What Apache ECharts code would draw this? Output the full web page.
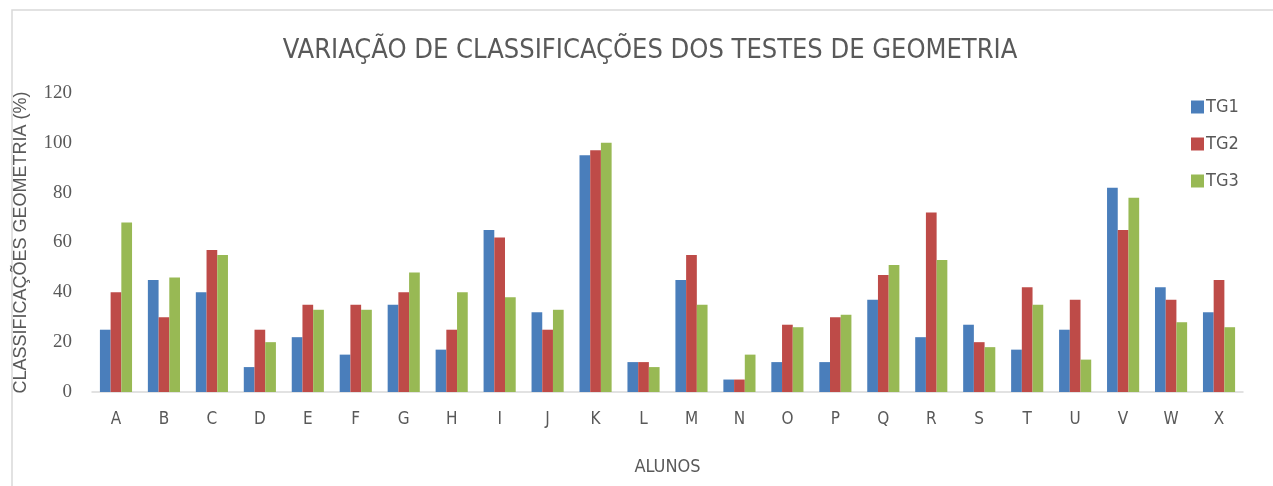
<!DOCTYPE html>
<html>
<head>
<meta charset="utf-8">
<script src="https://cdn.jsdelivr.net/npm/echarts@6/dist/echarts.min.js"></script>
<style>
  html, body { margin: 0; padding: 0; background: #fff; }
  #chart { width: 1273px; height: 486px; }
</style>
</head>
<body>
<div id="chart"></div>
<script>
var alunos = ['A','B','C','D','E','F','G','H','I','J','K','L','M','N','O','P','Q','R','S','T','U','V','W','X'];
var tg1 = [25, 45, 40, 10, 22, 15, 35, 17, 65, 32, 95, 12, 45, 5, 12, 12, 37, 22, 27, 17, 25, 82, 42, 32];
var tg2 = [40, 30, 57, 25, 35, 35, 40, 25, 62, 25, 97, 12, 55, 5, 27, 30, 47, 72, 20, 42, 37, 65, 37, 45];
var tg3 = [68, 46, 55, 20, 33, 33, 48, 40, 38, 33, 100, 10, 35, 15, 26, 31, 51, 53, 18, 35, 13, 78, 28, 26];
var yTicks = [0, 20, 40, 60, 80, 100, 120];

var dom = document.getElementById('chart');
var myChart = echarts.init(dom, null, { renderer: 'canvas' });

var textGrey = '#595959';

var option = {
  animation: false,
  backgroundColor: '#fff',
  color: ['#4A7EBB', '#BE4B48', '#98B954'],
  graphic: [{
    type: 'rect',
    shape: { x: 12, y: 10, width: 1270, height: 490 },
    style: { fill: 'none', stroke: '#d9d9d9', lineWidth: 1.5 },
    silent: true
  }],
  title: {
    text: 'VARIAÇÃO DE CLASSIFICAÇÕES DOS TESTES DE GEOMETRIA',
    left: 645,
    textAlign: 'center',
    top: 32,
    textStyle: {
      fontFamily: 'Liberation Sans Narrow, DejaVu Sans Condensed, sans-serif',
      fontWeight: 'normal',
      fontSize: 27,
      color: textGrey
    }
  },
  legend: {
    orient: 'vertical',
    left: 1186,
    top: 93,
    itemGap: 19,
    itemWidth: 13,
    itemHeight: 13,
    icon: 'rect',
    textStyle: {
      fontFamily: 'Liberation Sans Narrow, DejaVu Sans Condensed, sans-serif',
      fontSize: 18,
      color: textGrey,
      padding: [0, 0, 0, -3]
    },
    data: ['TG1', 'TG2', 'TG3']
  },
  grid: { left: 92, right: 30, top: 93, bottom: 94 },
  xAxis: {
    type: 'category',
    data: alunos,
    name: 'ALUNOS',
    nameLocation: 'middle',
    nameGap: 66,
    nameTextStyle: {
      fontFamily: 'Liberation Sans Narrow, DejaVu Sans Condensed, sans-serif',
      fontSize: 18,
      color: textGrey
    },
    axisLine: { lineStyle: { color: '#d9d9d9', width: 1.5 } },
    axisTick: { show: false },
    axisLabel: {
      margin: 19,
      fontFamily: 'Liberation Sans Narrow, DejaVu Sans Condensed, sans-serif',
      fontSize: 17,
      color: textGrey
    }
  },
  yAxis: {
    type: 'value',
    min: yTicks[0],
    max: yTicks[yTicks.length - 1],
    interval: 20,
    name: 'CLASSIFICAÇÕES GEOMETRIA (%)',
    nameLocation: 'middle',
    nameGap: 62,
    nameTextStyle: {
      fontFamily: 'Liberation Sans, DejaVu Sans, sans-serif',
      fontSize: 18,
      color: textGrey
    },
    splitLine: { show: false },
    axisLine: { show: false },
    axisTick: { show: false },
    axisLabel: {
      margin: 20,
      fontFamily: 'Liberation Serif, DejaVu Serif, serif',
      fontSize: 19,
      color: textGrey
    }
  },
  series: [
    { name: 'TG1', type: 'bar', data: tg1, barGap: '0%', barCategoryGap: '33%' },
    { name: 'TG2', type: 'bar', data: tg2, barGap: '0%', barCategoryGap: '33%' },
    { name: 'TG3', type: 'bar', data: tg3, barGap: '0%', barCategoryGap: '33%' }
  ]
};

if (option && typeof option === 'object') {
  myChart.setOption(option);
}
window.addEventListener('resize', myChart.resize);
</script>
</body>
</html>
